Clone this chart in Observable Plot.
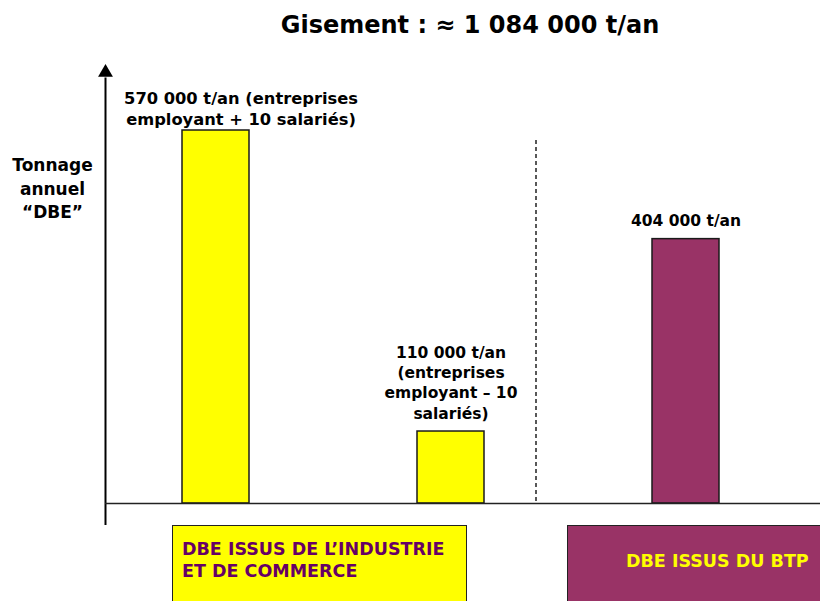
<!DOCTYPE html>
<html>
<head>
<meta charset="utf-8">
<script src="https://cdn.jsdelivr.net/npm/d3@7"></script>
<script src="https://cdn.jsdelivr.net/npm/@observablehq/plot@0.6"></script>
<style>
  body { margin: 0; width: 820px; height: 601px; overflow: hidden; background: #fff; position: relative; font-family: "DejaVu Sans", Verdana, sans-serif; }
  #title { position: absolute; left: 120px; top: 0; width: 700px; height: 50px; line-height: 50px; text-align: center; font-weight: bold; font-size: 24px; color: #000; }
  #chart { position: absolute; left: 0; top: 50px; }
  .box { position: absolute; top: 525px; height: 80px; box-sizing: border-box; border: 1.5px solid #222; font-weight: bold; font-size: 17.5px; line-height: 22px; white-space: pre; }
</style>
</head>
<body>
<div id="title"></div>
<div id="chart"></div>
<div id="boxes"></div>
<script>
const title = "Gisement : ≈ 1 084 000 t/an";
const categories = ["+10 salariés", "−10 salariés", "BTP"];
const groups = ["Industrie", "Industrie", "BTP"];
const values = [570000, 110000, 404000];
const barLabels = [
  "570 000 t/an (entreprises\nemployant + 10 salariés)",
  "110 000 t/an\n(entreprises\nemployant – 10\nsalariés)",
  "404 000 t/an"
];
const yLabel = "Tonnage\nannuel\n“DBE”";
const groupNames = ["Industrie", "BTP"];
const groupLabels = ["DBE ISSUS DE L’INDUSTRIE\nET DE COMMERCE", "DBE ISSUS DU BTP"];
const groupColors = ["#ffff00", "#993366"];
const groupTextColors = ["#660066", "#ffff00"];

const data = categories.map((c, i) => ({category: c, group: groups[i], value: values[i], label: barLabels[i]}));

document.getElementById("title").textContent = title;

const chart = Plot.plot({
  width: 820,
  height: 475,
  marginLeft: 105,
  marginRight: 0,
  marginTop: 28,
  marginBottom: 0,
  style: {fontFamily: "DejaVu Sans, Verdana, sans-serif", background: "transparent", color: "#000"},
  x: {type: "band", domain: categories, range: [181, 720], paddingInner: 0.716, paddingOuter: 0, axis: null},
  y: {domain: [0, 570000], range: [453, 80], axis: null},
  color: {domain: groupNames, range: groupColors},
  marks: [
    Plot.frame({anchor: "left", stroke: "#000", strokeWidth: 2}),
    Plot.dot([0], {frameAnchor: "top-left", symbol: "triangle", r: 5.5, fill: "#000", stroke: "none", dy: -6}),
    Plot.ruleX(["BTP"], {x: d => d, dx: -150, stroke: "#222", strokeWidth: 1.5, strokeDasharray: "4,3", insetTop: 62, insetBottom: 22}),
    Plot.barY(data, {x: "category", y: "value", fill: "group", stroke: "#1a1a1a", strokeWidth: 1.5}),
    Plot.ruleY([0], {stroke: "#222", strokeWidth: 1.5}),
    Plot.text(data, {filter: (d, i) => i === 0, x: "category", y: "value", text: "label", lineAnchor: "bottom", dy: -6, dx: 25, fontWeight: "bold", fontSize: 16.3, lineHeight: 1.25, fill: "#000"}),
    Plot.text(data, {filter: (d, i) => i > 0, x: "category", y: "value", text: "label", lineAnchor: "bottom", dy: -13, fontWeight: "bold", fontSize: 15.5, lineHeight: 1.3, fill: "#000"}),
    Plot.text([yLabel], {frameAnchor: "top-left", textAnchor: "middle", dx: -53, dy: 76, text: d => d, fontWeight: "bold", fontSize: 17, lineHeight: 1.38, fill: "#000"})
  ]
});
document.getElementById("chart").appendChild(chart);

const boxLayout = [
  {left: 172, width: 295, padding: "12px 0 0 9px"},
  {left: 567, width: 260, padding: "24px 0 0 58px"}
];
const boxes = document.getElementById("boxes");
groupLabels.forEach((t, i) => {
  const div = document.createElement("div");
  div.className = "box";
  div.style.left = boxLayout[i].left + "px";
  div.style.width = boxLayout[i].width + "px";
  div.style.padding = boxLayout[i].padding;
  div.style.background = groupColors[i];
  div.style.color = groupTextColors[i];
  div.textContent = t;
  boxes.appendChild(div);
});
</script>
</body>
</html>
